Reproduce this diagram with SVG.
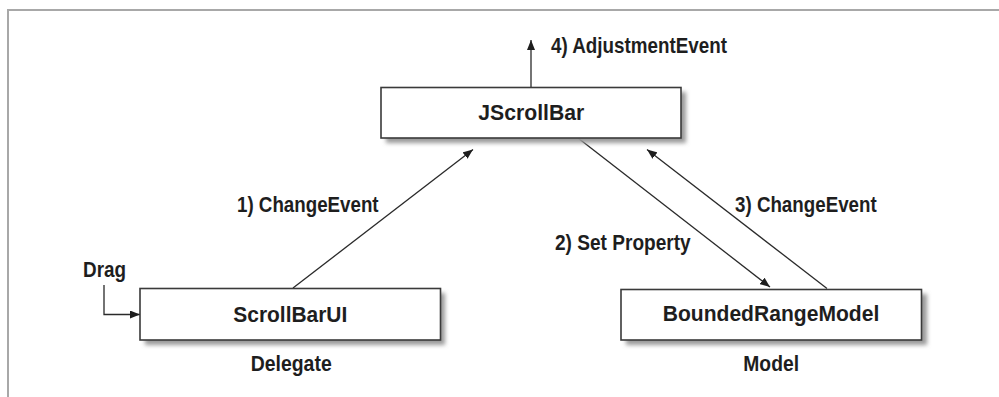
<svg xmlns="http://www.w3.org/2000/svg" width="999" height="397" viewBox="0 0 999 397">
<style>
.box{fill:#fff;stroke:#3a3a3a;stroke-width:1.6}
.shadow{fill:#9a9a9a;filter:url(#blur)}
.lbl{font-family:"Liberation Sans",Arial,sans-serif;font-weight:bold;font-size:22.5px;fill:#1e1e1e}
.conn{stroke:#2a2a2a;stroke-width:1.3;fill:none}
</style>
<defs>
<filter id="blur" x="-10%" y="-30%" width="120%" height="160%"><feGaussianBlur stdDeviation="2"/></filter>
<marker id="arr" viewBox="0 0 10 8" refX="10" refY="4" markerWidth="10" markerHeight="8" markerUnits="userSpaceOnUse" orient="auto">
<path d="M0,0 L10,4 L0,8 Z" fill="#1e1e1e"/>
</marker>
</defs>
<rect width="999" height="397" fill="#fff"/>
<g id="frame">
<path d="M8,397 L8,10 L999,10" fill="none" stroke="#a8a8a8" stroke-width="2"/>
</g>
<g id="connectors">
<line class="conn" x1="531" y1="87" x2="531" y2="40" marker-end="url(#arr)"/>
<line class="conn" x1="293" y1="288" x2="473" y2="149.5" marker-end="url(#arr)"/>
<line class="conn" x1="578" y1="138" x2="770" y2="287" marker-end="url(#arr)"/>
<line class="conn" x1="827" y1="288.5" x2="647" y2="149.5" marker-end="url(#arr)"/>
<polyline class="conn" points="104,285 104,314.5 140,314.5" marker-end="url(#arr)"/>
</g>
<g id="labels">
<text class="lbl" x="551" y="53" textLength="176" lengthAdjust="spacingAndGlyphs">4) AdjustmentEvent</text>
<text class="lbl" x="237" y="211.7" textLength="141.6" lengthAdjust="spacingAndGlyphs">1) ChangeEvent</text>
<text class="lbl" x="735" y="211.7" textLength="141.7" lengthAdjust="spacingAndGlyphs">3) ChangeEvent</text>
<text class="lbl" x="555" y="250" textLength="135.7" lengthAdjust="spacingAndGlyphs">2) Set Property</text>
<text class="lbl" x="83" y="277" textLength="43" lengthAdjust="spacingAndGlyphs">Drag</text>
</g>
<g id="JScrollBar">
<rect class="shadow" x="386" y="92" width="300" height="51"/>
<rect class="box" x="381" y="87.5" width="300" height="50.5"/>
<text class="lbl" x="478.3" y="119.5" textLength="106" lengthAdjust="spacingAndGlyphs">JScrollBar</text>
</g>
<g id="ScrollBarUI">
<rect class="shadow" x="145" y="293" width="300" height="52"/>
<rect class="box" x="140" y="288.5" width="300.5" height="51.5"/>
<text class="lbl" x="233.3" y="321.7" textLength="114" lengthAdjust="spacingAndGlyphs">ScrollBarUI</text>
<text class="lbl" x="250.7" y="370.7" textLength="81" lengthAdjust="spacingAndGlyphs">Delegate</text>
</g>
<g id="BoundedRangeModel">
<rect class="shadow" x="626" y="294" width="301" height="51"/>
<rect class="box" x="621" y="289.5" width="300.5" height="50.5"/>
<text class="lbl" x="662.7" y="321" textLength="216.6" lengthAdjust="spacingAndGlyphs">BoundedRangeModel</text>
<text class="lbl" x="743.3" y="370.7" textLength="55.7" lengthAdjust="spacingAndGlyphs">Model</text>
</g>
</svg>
